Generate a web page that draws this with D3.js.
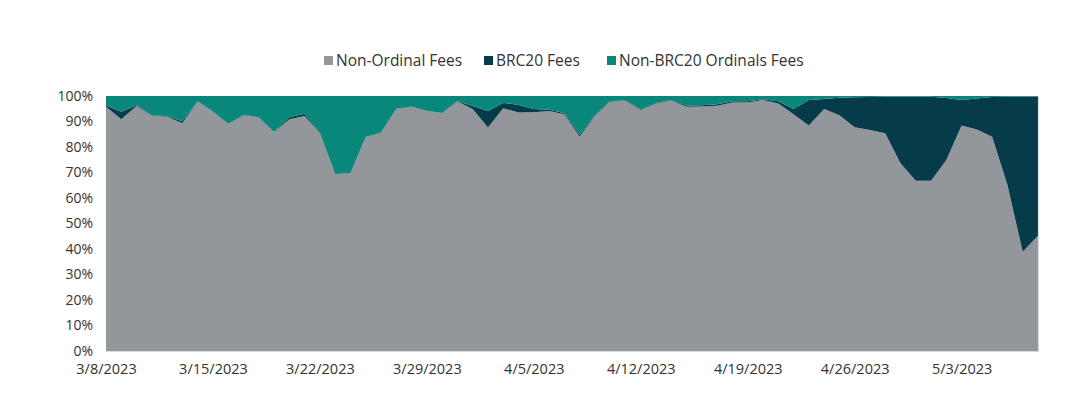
<!DOCTYPE html>
<html>
<head>
<meta charset="utf-8">
<script src="https://cdn.jsdelivr.net/npm/d3@7"></script>
<style>
  body { margin: 0; background: #fff; }
  text { font-family: "Open Sans", sans-serif; fill: #333; }
</style>
</head>
<body>
<div id="chart"></div>
<script>
var startDate = "2023-03-08", endDate = "2023-05-08";
var seriesNames = ["Non-Ordinal Fees", "BRC20 Fees", "Non-BRC20 Ordinals Fees"];
var seriesColors = ["#93979b", "#063b4a", "#08877a"];
var xTickLabels = ["3/8/2023", "3/15/2023", "3/22/2023", "3/29/2023", "4/5/2023", "4/12/2023", "4/19/2023", "4/26/2023", "5/3/2023"];
var yTicks = [0, 10, 20, 30, 40, 50, 60, 70, 80, 90, 100];

var nonOrdinal = [95.8, 90.9, 96.1, 92.3, 91.9, 89.3, 97.8, 93.8, 89.0, 92.5, 91.6, 85.8, 90.9, 92.2, 85.4, 69.3,
    69.7, 83.8, 85.6, 94.9, 95.8, 94.1, 93.2, 97.8, 94.9, 87.6, 95.2, 93.5, 93.6, 94.1, 92.8, 84.0,
    92.3, 97.8, 98.0, 94.5, 97.1, 98.2, 95.8, 95.9, 96.2, 97.5, 97.5, 98.4, 97.1, 92.8, 88.4, 94.9,
    92.5, 87.7, 86.7, 85.4, 73.6, 66.8, 66.8, 74.9, 88.4, 86.9, 84.0, 65.1, 38.9, 45.2];
var brc20 = [0.5, 2.9, 0.3, 0.2, 0.2, 0.8, 0.1, 0.1, 0.1, 0.1, 0.1, 0.1, 0.8, 0.8, 0.1, 0.1,
    0.1, 0.1, 0.1, 0.1, 0.1, 0.1, 0.1, 0.1, 1.2, 6.5, 2.2, 3.0, 1.3, 0.5, 0.5, 0.7,
    0.3, 0.2, 0.2, 0.3, 0.2, 0.2, 0.5, 0.5, 0.6, 0.4, 0.4, 0.3, 0.8, 2.1, 10.0, 3.9,
    6.8, 11.8, 12.9, 14.3, 26.1, 32.9, 32.9, 24.3, 10.0, 12.1, 15.6, 34.6, 60.8, 54.6];
var nonBrc20 = [3.7, 6.2, 3.6, 7.5, 7.9, 9.9, 2.1, 6.1, 10.9, 7.4, 8.3, 14.1, 8.3, 7.0, 14.5, 30.6,
    30.2, 16.1, 14.3, 5.0, 4.1, 5.8, 6.7, 2.1, 3.9, 5.9, 2.6, 3.5, 5.1, 5.4, 6.7, 15.3,
    7.4, 2.0, 1.8, 5.2, 2.7, 1.6, 3.7, 3.6, 3.2, 2.1, 2.1, 1.3, 2.1, 5.1, 1.6, 1.2,
    0.7, 0.5, 0.4, 0.3, 0.3, 0.3, 0.3, 0.8, 1.6, 1.0, 0.4, 0.3, 0.3, 0.2];

var W = 1080, H = 413;
var margin = {left: 106, right: 42, top: 96, bottom: 62};

var parse = d3.timeParse("%Y-%m-%d");
var dates = d3.timeDay.range(parse(startDate), d3.timeDay.offset(parse(endDate), 1));
var rows = dates.map(function (d, i) {
    return {date: d, a: nonOrdinal[i], b: brc20[i], c: nonBrc20[i]};
});

var svg = d3.select("#chart").append("svg").attr("width", W).attr("height", H);

var x = d3.scaleTime().domain([dates[0], dates[dates.length - 1]]).range([margin.left, W - margin.right]);
var y = d3.scaleLinear().domain([0, 1]).range([H - margin.bottom, margin.top]);

var stack = d3.stack().keys(["a", "b", "c"]).offset(d3.stackOffsetExpand);
var layers = stack(rows);

var area = d3.area()
    .x(function (d) { return x(d.data.date); })
    .y0(function (d) { return y(d[0]); })
    .y1(function (d) { return y(d[1]); });

svg.selectAll(".layer").data(layers).enter().append("path")
    .attr("class", "layer")
    .attr("d", area)
    .style("fill", function (d, i) { return seriesColors[i]; });

// thin light frame on bottom and right like the original
svg.append("path")
    .attr("d", "M" + x.range()[0] + "," + (y(0) + 0.5) + "H" + (x.range()[1] + 0.5) + "V" + y(1))
    .style("fill", "none").style("stroke", "#d9dadb").style("stroke-width", 1.2);

// y axis labels
var yAxis = d3.axisLeft(y).tickValues(yTicks.map(function (v) { return v / 100; }))
    .tickFormat(function (v) { return Math.round(v * 100) + "%"; }).tickSize(0).tickPadding(13);
var gy = svg.append("g").attr("transform", "translate(" + margin.left + ",0)").call(yAxis);
gy.select(".domain").remove();
gy.selectAll("text").style("font-size", "14px").style("fill", "#333").style("font-family", "'Open Sans', sans-serif");

// x axis labels
var tickDates = xTickLabels.map(function (s) { return d3.timeParse("%m/%d/%Y")(s); });
var xAxis = d3.axisBottom(x).tickValues(tickDates)
    .tickFormat(function (d, i) { return xTickLabels[i]; }).tickSize(0).tickPadding(13);
var gx = svg.append("g").attr("transform", "translate(0," + y(0) + ")").call(xAxis);
gx.select(".domain").remove();
gx.selectAll("text").style("font-size", "14.5px").style("fill", "#333").style("font-family", "'Open Sans', sans-serif");

// legend
var legendX = [324, 484, 607];
var lg = svg.selectAll(".leg").data(seriesNames).enter().append("g").attr("class", "leg")
    .attr("transform", function (d, i) { return "translate(" + legendX[i] + ",61)"; });
lg.append("rect").attr("x", 0).attr("y", -5).attr("width", 9).attr("height", 9)
    .style("fill", function (d, i) { return seriesColors[i]; });
lg.append("text").attr("x", 12).attr("y", 0).attr("dy", "0.35em")
    .style("font-size", "15.5px").text(function (d) { return d; });
</script>
</body>
</html>
